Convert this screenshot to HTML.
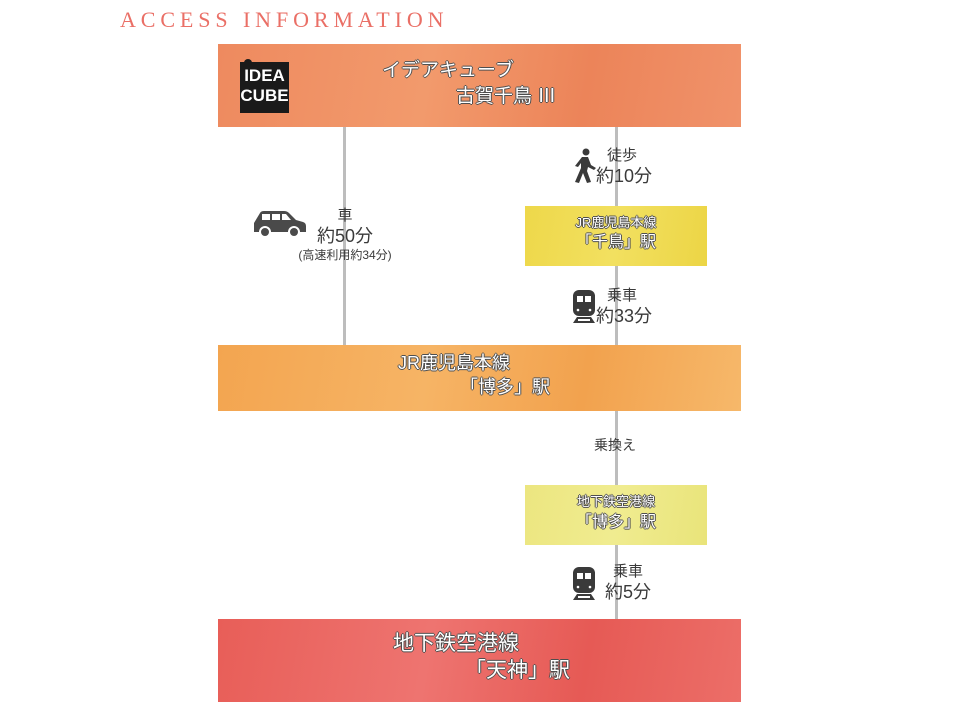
<!DOCTYPE html>
<html><head><meta charset="utf-8"><style>
body{margin:0;width:960px;height:720px;background:#fff;position:relative;overflow:hidden;font-family:"Liberation Sans","Noto Sans CJK JP",sans-serif;}
.a{position:absolute}
.t{position:absolute;color:#fff;text-shadow:0 0 1px #333,1px 0 0 #555,-1px 0 0 #555,0 1px 0 #555,0 -1px 0 #555;white-space:nowrap;line-height:1.15}
.g{position:absolute;color:#3a3a3a;white-space:nowrap;line-height:1.2;text-align:center}
.line{position:absolute;width:3px;background:#bdbdbd}
</style></head><body>
<div class="a" style="left:120px;top:7px;font-family:'Liberation Serif',serif;font-size:22px;letter-spacing:4.9px;color:#ea6f66;">ACCESS INFORMATION</div>

<div class="line" style="left:343px;top:127px;height:218px"></div>
<div class="line" style="left:615px;top:127px;height:218px"></div>
<div class="line" style="left:615px;top:411px;height:208px"></div>

<div class="a" style="left:218px;top:44px;width:523px;height:83px;background:linear-gradient(100deg,#ee8a5f,#f29a6c 40%,#ec8459 70%,#f0926a)"></div>
<div class="a" style="left:240px;top:62px;width:49px;height:51px;background:#1a1a1a;color:#fff;font-weight:bold;font-size:17px;line-height:20px;text-align:center;font-family:'Liberation Sans Narrow','Liberation Sans',sans-serif;padding-top:4px;box-sizing:border-box">IDEA<br>CUBE</div>
<div class="a" style="left:244px;top:59px;width:8px;height:8px;border-radius:50%;background:#1a1a1a"></div>
<div class="t" style="left:382px;top:60px;font-size:19px">イデアキューブ</div>
<div class="t" style="left:456px;top:86px;font-size:19px">古賀千鳥 Ⅲ</div>

<svg class="a" style="left:252px;top:209px" width="56" height="30" viewBox="0 0 56 30"><path d="M2 14 L8 4 Q9 2 12 2 L32 2 Q35 2 37 4 L44 11 L51 13 Q54 14 54 17 L54 23 L2 23 Z" fill="#4a4a4a"/><rect x="10" y="5" width="8" height="6" fill="#fff"/><rect x="20" y="5" width="8" height="6" fill="#fff"/><path d="M30 5 L34 5 L39 11 L30 11Z" fill="#fff"/><circle cx="13" cy="23" r="5" fill="#4a4a4a" stroke="#fff" stroke-width="2"/><circle cx="42" cy="23" r="5" fill="#4a4a4a" stroke="#fff" stroke-width="2"/></svg>
<div class="g" style="left:300px;top:205px;width:90px;font-size:15px;line-height:21px">車<br><span style="font-size:18px">約50分</span></div>
<div class="g" style="left:280px;top:248px;width:130px;font-size:12px">(高速利用約34分)</div>

<svg class="a" style="left:572px;top:148px" width="26" height="36" viewBox="0 0 26 36"><circle cx="14" cy="4" r="3.5" fill="#3a3a3a"/><path d="M10 9 L16 9 L19 17 L24 20 L22 22 L16 19 L15 23 L19 34 L15 35 L11 25 L7 35 L3 34 L9 20 L9 15 L6 19 L3 18 Z" fill="#3a3a3a"/></svg>
<div class="g" style="left:596px;top:145px;width:52px;font-size:15px;line-height:21px">徒歩<br><span style="font-size:18px">約10分</span></div>

<div class="a" style="left:525px;top:206px;width:182px;height:60px;background:linear-gradient(100deg,#eed84a,#f2e060 50%,#ecd545)"></div>
<div class="t" style="left:525px;top:216px;width:182px;text-align:center;font-size:13px">JR鹿児島本線</div>
<div class="t" style="left:525px;top:234px;width:182px;text-align:center;font-size:16px">「千鳥」駅</div>

<svg class="a" style="left:572px;top:290px" width="24" height="34" viewBox="0 0 24 34"><rect x="1" y="0" width="22" height="26" rx="6" fill="#3a3a3a"/><rect x="5" y="6" width="6" height="6" fill="#fff"/><rect x="13" y="6" width="6" height="6" fill="#fff"/><circle cx="6" cy="20" r="1.3" fill="#fff"/><circle cx="18" cy="20" r="1.3" fill="#fff"/><path d="M5 27 L1 33 L23 33 L19 27 Z M6 29 L18 29 L18 31 L6 31Z" fill="#3a3a3a" fill-rule="evenodd"/></svg>
<div class="g" style="left:596px;top:285px;width:52px;font-size:15px;line-height:21px">乗車<br><span style="font-size:18px">約33分</span></div>

<div class="a" style="left:218px;top:345px;width:523px;height:66px;background:linear-gradient(100deg,#f3a550,#f6b465 40%,#f2a24e 70%,#f6b86a)"></div>
<div class="t" style="left:398px;top:353px;font-size:18px">JR鹿児島本線</div>
<div class="t" style="left:460px;top:377px;font-size:18px">「博多」駅</div>

<div class="g" style="left:585px;top:437px;width:60px;font-size:14px">乗換え</div>

<div class="a" style="left:525px;top:485px;width:182px;height:60px;background:linear-gradient(100deg,#ece680,#f0ec90 50%,#e9e47a)"></div>
<div class="t" style="left:525px;top:495px;width:182px;text-align:center;font-size:13px">地下鉄空港線</div>
<div class="t" style="left:525px;top:514px;width:182px;text-align:center;font-size:16px">「博多」駅</div>

<svg class="a" style="left:572px;top:567px" width="24" height="34" viewBox="0 0 24 34"><rect x="1" y="0" width="22" height="26" rx="6" fill="#3a3a3a"/><rect x="5" y="6" width="6" height="6" fill="#fff"/><rect x="13" y="6" width="6" height="6" fill="#fff"/><circle cx="6" cy="20" r="1.3" fill="#fff"/><circle cx="18" cy="20" r="1.3" fill="#fff"/><path d="M5 27 L1 33 L23 33 L19 27 Z M6 29 L18 29 L18 31 L6 31Z" fill="#3a3a3a" fill-rule="evenodd"/></svg>
<div class="g" style="left:603px;top:561px;width:50px;font-size:15px;line-height:21px">乗車<br><span style="font-size:18px">約5分</span></div>

<div class="a" style="left:218px;top:619px;width:523px;height:83px;background:linear-gradient(100deg,#e85e58,#ee7470 40%,#e65a55 70%,#ec6e68)"></div>
<div class="t" style="left:393px;top:632px;font-size:21px">地下鉄空港線</div>
<div class="t" style="left:465px;top:659px;font-size:21px">「天神」駅</div>
</body></html>
